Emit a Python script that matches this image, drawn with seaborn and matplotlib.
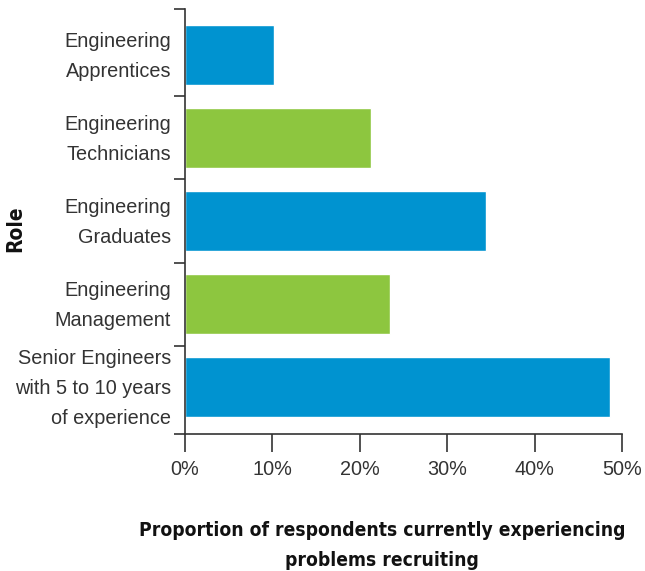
import matplotlib
matplotlib.use("Agg")
import matplotlib.pyplot as plt
import matplotlib.transforms as mtransforms
import seaborn as sns
import pandas as pd

roles = [
    "Engineering\nApprentices",
    "Engineering\nTechnicians",
    "Engineering\nGraduates",
    "Engineering\nManagement",
    "Senior Engineers\nwith 5 to 10 years\nof experience",
]
shares = [10.2, 21.3, 34.4, 23.4, 48.6]
bar_colors = ["#0093D0", "#8DC63F", "#0093D0", "#8DC63F", "#0093D0"]
x_ticks = [0, 10, 20, 30, 40, 50]
x_tick_labels = ["0%", "10%", "20%", "30%", "40%", "50%"]

df = pd.DataFrame({"Role": roles, "Share": shares})

sns.set_style("white")
plt.rcParams["font.family"] = ["Liberation Sans", "DejaVu Sans"]

fig = plt.figure(figsize=(6.45, 5.71), dpi=100)
ax = fig.add_axes([185 / 645, 1 - 434 / 571, 437 / 645, 425 / 571])

sns.barplot(data=df, y="Role", x="Share", hue="Role", palette=bar_colors,
            legend=False, width=0.72, saturation=1, ax=ax, orient="h")

ax.set_xlim(0, 50)
ylo, yhi = 4.566, -0.554
ax.set_ylim(ylo, yhi)

ax.set_xticks(x_ticks)
ax.set_xticklabels(x_tick_labels, fontsize=14.3, color="#333333")
ax.tick_params(axis="x", length=13, width=1.2, color="#333333", pad=6,
               direction="out", bottom=True)

# Category labels sit between boundary ticks
ax.set_yticks(range(len(roles)))
ax.set_yticklabels(roles, fontsize=14.3, color="#333333", linespacing=1.72)
ax.tick_params(axis="y", which="major", length=0, pad=10)
ax.set_yticks([yhi, 0.5, 1.5, 2.5, 3.5, ylo], minor=True)
ax.tick_params(axis="y", which="minor", length=8, width=1.2, color="#333333",
               left=True, direction="out")
lift = mtransforms.ScaledTranslation(0, 6 / 100, fig.dpi_scale_trans)
for lbl in ax.get_yticklabels():
    lbl.set_transform(lbl.get_transform() + lift)

for side in ["top", "right"]:
    ax.spines[side].set_visible(False)
for side in ["left", "bottom"]:
    ax.spines[side].set_color("#333333")
    ax.spines[side].set_linewidth(1.2)

label_font = dict(family=["DejaVu Sans", "Liberation Sans"], fontstretch="condensed",
                  fontweight="bold", color="#111111")
ax.set_xlabel("Proportion of respondents currently experiencing\nproblems recruiting",
              fontsize=13.8, linespacing=1.7, **label_font)
ax.xaxis.set_label_coords(0.451, -0.205)
ax.set_ylabel("Role", fontsize=15, **label_font)
ax.yaxis.set_label_coords(-0.365, 0.484)

fig.savefig("out.png", dpi=100)
